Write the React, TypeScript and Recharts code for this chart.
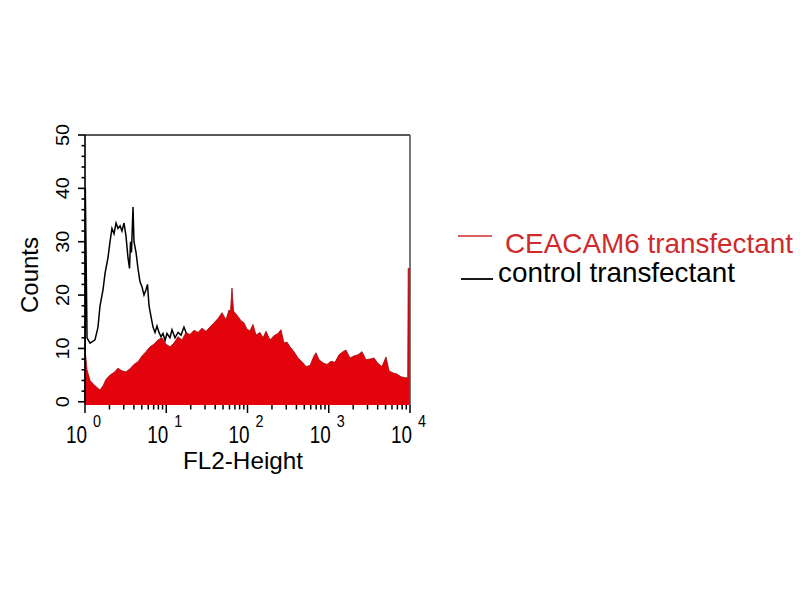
import React from 'react';
import { ComposedChart, Area, XAxis, YAxis, ReferenceLine, Legend } from 'recharts';

// FL2-Height channel position, in decades (log10 of FL2-Height)
const ceacamPos = [
  0, 0.025, 0.062, 0.123, 0.185, 0.222, 0.258, 0.308, 0.357, 0.406, 0.455, 0.505, 0.554, 0.603,
  0.652, 0.702, 0.751, 0.8, 0.849, 0.898, 0.948, 0.997, 1.046, 1.095, 1.145, 1.194, 1.243, 1.292,
  1.342, 1.391, 1.44, 1.489, 1.538, 1.588, 1.637, 1.686, 1.735, 1.772, 1.791, 1.809, 1.828, 1.846,
  1.883, 1.92, 1.957, 1.994, 2.031, 2.068, 2.105, 2.154, 2.191, 2.228, 2.277, 2.326, 2.375, 2.412,
  2.449, 2.486, 2.523, 2.572, 2.622, 2.671, 2.72, 2.769, 2.818, 2.843, 2.88, 2.929, 2.978, 3.028,
  3.077, 3.126, 3.175, 3.212, 3.262, 3.311, 3.36, 3.409, 3.458, 3.508, 3.557, 3.606, 3.655, 3.705,
  3.742, 3.791, 3.84, 3.889, 3.938, 3.972, 3.978, 4.0,
];
const ceacamCounts = [
  10, 6, 4, 3, 2.2, 3, 4.2, 5, 5.5, 6.3, 5.8, 5.6, 6.2, 7,
  7.5, 8.6, 9.4, 10.3, 10.8, 11.6, 12, 10.8, 10.3, 11, 12.2, 11.6, 13, 12.6,
  13.4, 13, 13.8, 13.2, 14, 14.8, 15.6, 16.7, 15.4, 17.2, 17, 21.3, 17, 16.7,
  16, 15.2, 14.8, 13.6, 13.3, 14.5, 12.5, 13, 12, 13.2, 11.6, 12.4, 12.8, 13.5,
  11, 11.2, 10.3, 9.4, 8.2, 7.5, 6.6, 6.8, 8.6, 9.2, 7.9, 7.3, 7, 7.6,
  7.4, 8.8, 9.4, 9.7, 8.2, 8.6, 8.8, 9.4, 7.9, 8, 8.2, 7.2, 6.6, 8.4,
  5.8, 5.4, 5.2, 4.7, 4.5, 4.5, 25, 25,
];

const controlPos = [
  0.001, 0.004, 0.025, 0.062, 0.123, 0.16, 0.185, 0.222, 0.246, 0.283, 0.308, 0.332, 0.357, 0.382,
  0.406, 0.431, 0.455, 0.48, 0.505, 0.529, 0.548, 0.56, 0.572, 0.591, 0.603, 0.628, 0.652, 0.677,
  0.702, 0.726, 0.751, 0.769, 0.788, 0.812, 0.837, 0.862, 0.886, 0.911, 0.935, 0.96, 0.985, 1.009,
  1.046, 1.071, 1.108, 1.145, 1.182, 1.218, 1.255, 1.292, 1.415, 1.785, 2.4, 3.26, 3.995,
];
const controlCounts = [
  0, 40, 12, 11, 11.6, 14, 18, 21, 24, 27, 30, 32.5, 31.5, 33.5,
  32.5, 33, 32, 33.5, 31, 27, 25, 30, 28, 36.5, 30, 28, 25, 22.5,
  21.5, 20, 21, 22, 18, 16, 14, 13, 14.2, 13, 12.2, 12.8, 11.5, 12.8,
  12, 13.5, 12, 13, 12.5, 14, 12.5, 11, 9, 5, 2, 0.5, 0.3,
];

const yMajorTicks = [0, 10, 20, 30, 40, 50];
const yMinorStep = 2;
const decades = [0, 1, 2, 3, 4];
const seriesNames = ['CEACAM6 transfectant', 'control transfectant'];

const FONT = '"Liberation Sans", Arial, sans-serif';
const RED = '#e3030c';
const RED_EDGE = '#9a0a0a';
const LEGEND_RED = '#cf2b2b';

// table that recharts needs: merge both series by channel position
const table = (() => {
  const m = new Map<number, any>();
  ceacamPos.forEach((d, i) => {
    const r = m.get(d) ?? { d };
    r.ceacam = ceacamCounts[i];
    m.set(d, r);
  });
  controlPos.forEach((d, i) => {
    const r = m.get(d) ?? { d };
    r.control = controlCounts[i];
    m.set(d, r);
  });
  return Array.from(m.values()).sort((a, b) => a.d - b.d);
})();

const yTicks: number[] = [];
for (let v = 0; v <= 50; v += yMinorStep) yTicks.push(v);

const xTicks: number[] = [];
decades.forEach((n) => {
  if (n === 4) {
    xTicks.push(4);
    return;
  }
  for (let k = 1; k <= 9; k++) xTicks.push(n + Math.log10(k));
});

const YTick = (props: any) => {
  const { x, y, payload } = props;
  const v = payload.value;
  const major = yMajorTicks.includes(v);
  const len = String(v).length;
  return (
    <g>
      <line x1={x} x2={x - (major ? 7 : 3.5)} y1={y} y2={y} stroke="#000" strokeWidth={1.6} />
      {major && (
        <text
          transform={`translate(${x - 16},${y}) rotate(-90)`}
          textAnchor="middle"
          fontSize={19}
          fontFamily={FONT}
          fill="#000"
          textLength={len * 11}
          lengthAdjust="spacingAndGlyphs"
        >
          {v}
        </text>
      )}
    </g>
  );
};

const XTick = (props: any) => {
  const { x, y, payload } = props;
  const v = payload.value;
  const major = Math.abs(v - Math.round(v)) < 1e-6;
  return (
    <g>
      <line x1={x} x2={x} y1={y} y2={y + (major ? 8 : 4.5)} stroke="#000" strokeWidth={1.5} />
      {major && (
        <g>
          <text
            x={x - 19}
            y={y + 38}
            fontSize={23}
            fontFamily={FONT}
            fill="#000"
            textLength={21}
            lengthAdjust="spacingAndGlyphs"
          >
            10
          </text>
          <text
            x={x + 8}
            y={y + 22}
            fontSize={17}
            fontFamily={FONT}
            fill="#000"
            textLength={8}
            lengthAdjust="spacingAndGlyphs"
          >
            {Math.round(v)}
          </text>
        </g>
      )}
    </g>
  );
};

const LegendBox = () => (
  <svg width={345} height={80} style={{ display: 'block' }}>
    <line x1={3} x2={37} y1={16} y2={16} stroke={LEGEND_RED} strokeWidth={1.5} />
    <text
      x={50}
      y={33}
      fontSize={28}
      fontFamily={FONT}
      fill={LEGEND_RED}
      textLength={288}
      lengthAdjust="spacingAndGlyphs"
    >
      {seriesNames[0]}
    </text>
    <line x1={6} x2={38} y1={59} y2={59} stroke="#000" strokeWidth={1.8} />
    <text
      x={43}
      y={62}
      fontSize={28}
      fontFamily={FONT}
      fill="#000"
      textLength={237}
      lengthAdjust="spacingAndGlyphs"
    >
      {seriesNames[1]}
    </text>
  </svg>
);

export default function App() {
  return (
    <div style={{ position: 'absolute', left: 0, top: 0, width: 800, height: 600, background: '#fff' }}>
      <ComposedChart
        width={800}
        height={600}
        data={table}
        margin={{ top: 135, right: 390, bottom: 135, left: 25 }}
      >
        <XAxis
          dataKey="d"
          type="number"
          domain={[0, 4]}
          ticks={xTicks}
          interval={0}
          tick={<XTick />}
          tickLine={false}
          tickSize={0}
          tickMargin={0}
          axisLine={false}
          height={60}
          label={(p: any) => (
            <text
              x={243}
              y={469}
              textAnchor="middle"
              fontSize={24}
              fontFamily={FONT}
              fill="#000"
              textLength={120}
              lengthAdjust="spacingAndGlyphs"
            >
              FL2-Height
            </text>
          )}
        />
        <YAxis
          type="number"
          domain={[-0.6, 50]}
          ticks={yTicks}
          interval={0}
          tick={<YTick />}
          tickLine={false}
          tickSize={0}
          tickMargin={0}
          axisLine={{ stroke: '#000', strokeWidth: 1.6 }}
          width={60}
          allowDataOverflow
          label={(p: any) => (
            <text
              transform="translate(38,275) rotate(-90)"
              textAnchor="middle"
              fontSize={24}
              fontFamily={FONT}
              fill="#000"
              textLength={76}
              lengthAdjust="spacingAndGlyphs"
            >
              Counts
            </text>
          )}
        />
        <Area
          dataKey="control"
          name={seriesNames[1]}
          type="linear"
          baseValue="dataMin"
          stroke="#000"
          strokeWidth={1.5}
          fill="none"
          fillOpacity={0}
          dot={false}
          connectNulls
          isAnimationActive={false}
        />
        <Area
          dataKey="ceacam"
          name={seriesNames[0]}
          type="linear"
          baseValue="dataMin"
          stroke={RED_EDGE}
          strokeWidth={0.8}
          fill={RED}
          fillOpacity={1}
          connectNulls
          isAnimationActive={false}
        />
        <ReferenceLine y={50} stroke="#222" strokeWidth={1.6} />
        <ReferenceLine x={4} stroke="#555" strokeWidth={1.6} />
        <Legend
          layout="horizontal"
          verticalAlign="middle"
          align="center"
          content={() => <LegendBox />}
          wrapperStyle={{ position: 'absolute', left: 455, top: 220, width: 345, height: 80 }}
        />
      </ComposedChart>
    </div>
  );
}
